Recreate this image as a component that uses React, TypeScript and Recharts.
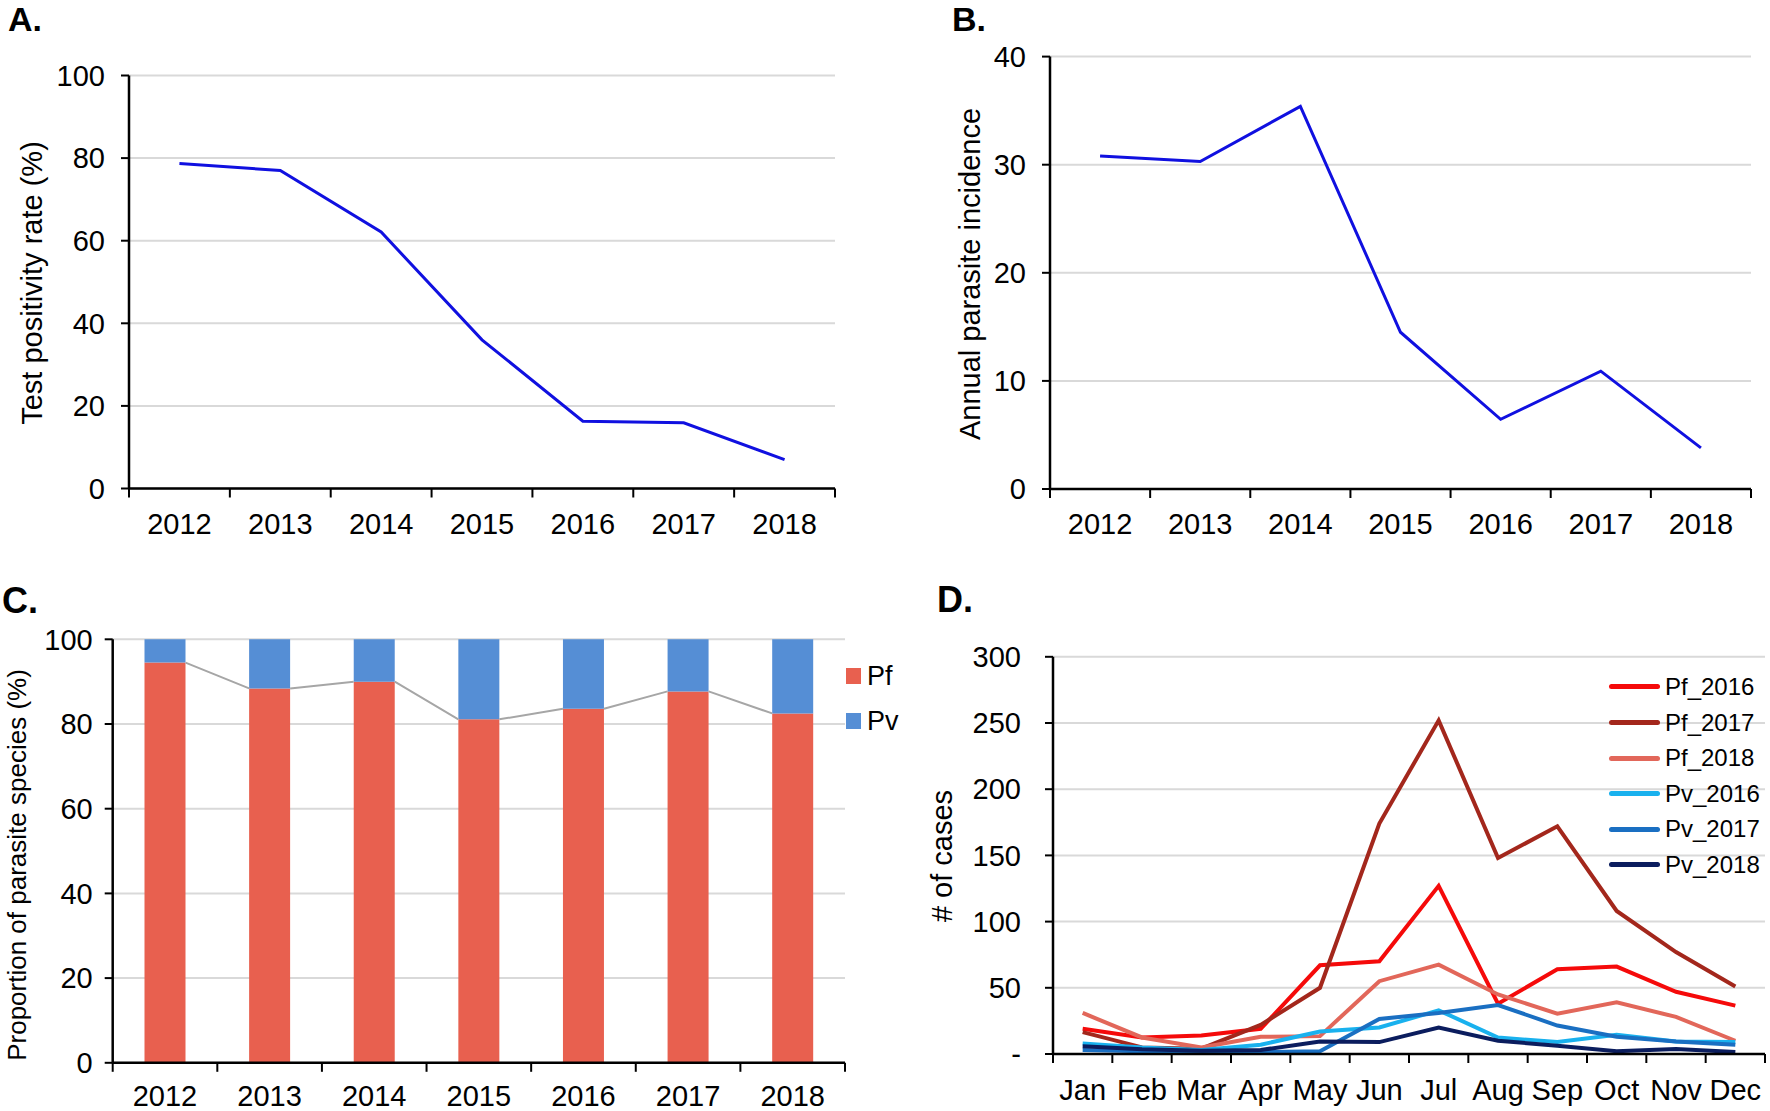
import React from 'react';
import { ComposedChart, Line, Bar, XAxis, YAxis, CartesianGrid, Legend } from 'recharts';

const FONT = '"Liberation Sans", Arial, Helvetica, sans-serif';

// ---------- data ----------
const years = ['2012', '2013', '2014', '2015', '2016', '2017', '2018'];
const testPositivity = [78.7, 77.0, 62.1, 36.0, 16.3, 15.9, 7.0];
const annualIncidence = [30.8, 30.3, 35.4, 14.5, 6.45, 10.9, 3.8];
const pfShare = [94.5, 88.4, 90.0, 81.1, 83.6, 87.7, 82.5];
const pvShare = [5.5, 11.6, 10.0, 18.9, 16.4, 12.3, 17.5];

const months = ['Jan', 'Feb', 'Mar', 'Apr', 'May', 'Jun', 'Jul', 'Aug', 'Sep', 'Oct', 'Nov', 'Dec'];
const pf2016 = [19, 12.5, 14, 19, 67, 70, 127, 38, 64, 66, 47, 36.5];
const pf2017 = [16.5, 5, 4, 22, 50, 174, 252, 148, 172, 108, 77, 51];
const pf2018 = [31, 12.5, 5, 13, 13.5, 55, 67.5, 45, 30.5, 39, 28, 10];
const pv2016 = [8, 5, 3, 7, 17, 20, 33, 12.5, 9, 14.6, 9.5, 9];
const pv2017 = [3, 2, 1.5, 1.5, 2, 26.5, 31, 37, 21.5, 13, 9.5, 7];
const pv2018 = [5.8, 3.5, 2.5, 3, 9.5, 9, 20, 10, 6.3, 2, 3.8, 1.5];

const tprTicks = [0, 20, 40, 60, 80, 100];
const apiTicks = [0, 10, 20, 30, 40];
const shareTicks = [0, 20, 40, 60, 80, 100];
const caseTicks = [0, 50, 100, 150, 200, 250, 300];

const monthSeries = [
  { key: 'Pf_2016', values: pf2016, color: '#f50a0a' },
  { key: 'Pf_2017', values: pf2017, color: '#a3271c' },
  { key: 'Pf_2018', values: pf2018, color: '#e2675a' },
  { key: 'Pv_2016', values: pv2016, color: '#19b1ee' },
  { key: 'Pv_2017', values: pv2017, color: '#1a6fc2' },
  { key: 'Pv_2018', values: pv2018, color: '#0b1d5e' },
];

const yearRows = years.map((year, i) => ({
  year,
  tpr: testPositivity[i],
  api: annualIncidence[i],
  pf: pfShare[i],
  pv: pvShare[i],
}));

const monthRows = months.map((month, i) => {
  const row: any = { month };
  monthSeries.forEach((s) => {
    row[s.key] = s.values[i];
  });
  return row;
});

// Excel-style series lines between stacked bars (bar edges in category units)
const BAR_GAP = 0.304;
const BAR_HALF = 0.5 - BAR_GAP;
const seriesLinePts: any[] = [];
for (let i = 0; i < pfShare.length - 1; i++) {
  seriesLinePts.push({ x: i + 0.5 + BAR_HALF, v: pfShare[i] });
  seriesLinePts.push({ x: i + 1.5 - BAR_HALF, v: pfShare[i + 1] });
  seriesLinePts.push({ x: i + 1.5, v: null });
}

// ---------- helpers ----------
function BoundaryTick(props: any) {
  const { x, y, payload, index, count, half, labelDy, fontSize } = props;
  const h = typeof payload?.offset === 'number' && payload.offset > 0 ? payload.offset : half;
  const last = index === count - 1;
  return (
    <g>
      <line x1={x - h} x2={x - h} y1={y} y2={y + 9} stroke="#000" strokeWidth={2} />
      {last && <line x1={x + h} x2={x + h} y1={y} y2={y + 9} stroke="#000" strokeWidth={2} />}
      <text x={x} y={y + labelDy} dy="0.36em" textAnchor="middle" fontSize={fontSize} fontFamily={FONT} fill="#000">
        {payload.value}
      </text>
    </g>
  );
}

const axisLine = { stroke: '#000', strokeWidth: 2.5 };
const tickLine = { stroke: '#000', strokeWidth: 2 };
const tickStyle = { fontSize: 29, fontFamily: FONT, fill: '#000' };

function PanelLetter({ text, left, baseline, size }: { text: string; left: number; baseline: number; size: number }) {
  return (
    <div
      style={{
        position: 'absolute',
        left,
        top: baseline - 0.8465 * size,
        fontSize: size,
        lineHeight: `${size}px`,
        fontWeight: 'bold',
        fontFamily: FONT,
        color: '#000',
      }}
    >
      {text}
    </div>
  );
}

function AxisTitle({ text, cx, cy, size }: { text: string; cx: number; cy: number; size: number }) {
  return (
    <div
      style={{
        position: 'absolute',
        left: cx,
        top: cy,
        transform: 'translate(-50%, -50%) rotate(-90deg)',
        fontSize: size,
        lineHeight: `${size}px`,
        fontFamily: FONT,
        whiteSpace: 'nowrap',
        color: '#000',
      }}
    >
      {text}
    </div>
  );
}

function LegendC() {
  const items = [
    { name: 'Pf', color: '#e8604f' },
    { name: 'Pv', color: '#558ed5' },
  ];
  return (
    <div style={{ fontFamily: FONT }}>
      {items.map((it) => (
        <div key={it.name} style={{ height: 45, display: 'flex', alignItems: 'center' }}>
          <span style={{ display: 'inline-block', width: 15, height: 16, background: it.color, marginRight: 6 }} />
          <span style={{ fontSize: 27, color: '#000' }}>{it.name}</span>
        </div>
      ))}
    </div>
  );
}

function LegendD() {
  return (
    <div style={{ fontFamily: FONT }}>
      {monthSeries.map((s) => (
        <div key={s.key} style={{ height: 35.6, display: 'flex', alignItems: 'center' }}>
          <span
            style={{ display: 'inline-block', width: 51, height: 5, borderRadius: 2.5, background: s.color, marginRight: 5 }}
          />
          <span style={{ fontSize: 24, color: '#000' }}>{s.key}</span>
        </div>
      ))}
    </div>
  );
}

// ---------- app ----------
export default function App() {
  return (
    <div style={{ position: 'absolute', left: 0, top: 0, width: 1770, height: 1111, background: '#fff', overflow: 'hidden' }}>
      {/* Panel A */}
      <div style={{ position: 'absolute', left: 0, top: 0 }}>
        <ComposedChart width={885} height={555} data={yearRows} margin={{ top: 75.5, right: 50, bottom: 6.5, left: 59 }}>
          <CartesianGrid vertical={false} stroke="#d9d9d9" strokeWidth={2} />
          <XAxis
            dataKey="year"
            scale="band"
            height={60}
            tickSize={0}
            tickMargin={0}
            interval={0}
            axisLine={axisLine}
            tickLine={false}
            tick={<BoundaryTick count={years.length} half={50.4} labelDy={35.5} fontSize={29} />}
          />
          <YAxis
            width={70}
            domain={[0, 100]}
            ticks={tprTicks}
            interval={0}
            tickSize={8}
            tickMargin={16}
            axisLine={axisLine}
            tickLine={tickLine}
            tick={tickStyle}
          />
          <Line dataKey="tpr" stroke="#1010e0" strokeWidth={3} dot={false} isAnimationActive={false} />
        </ComposedChart>
      </div>

      {/* Panel B */}
      <div style={{ position: 'absolute', left: 885, top: 0 }}>
        <ComposedChart width={885} height={555} data={yearRows} margin={{ top: 56.6, right: 19, bottom: 6, left: 95 }}>
          <CartesianGrid vertical={false} stroke="#d9d9d9" strokeWidth={2} />
          <XAxis
            dataKey="year"
            scale="band"
            height={60}
            tickSize={0}
            tickMargin={0}
            interval={0}
            axisLine={axisLine}
            tickLine={false}
            tick={<BoundaryTick count={years.length} half={50.1} labelDy={35} fontSize={29} />}
          />
          <YAxis
            width={70}
            domain={[0, 40]}
            ticks={apiTicks}
            interval={0}
            tickSize={8}
            tickMargin={16}
            axisLine={axisLine}
            tickLine={tickLine}
            tick={tickStyle}
          />
          <Line dataKey="api" stroke="#1010e0" strokeWidth={3} dot={false} isAnimationActive={false} />
        </ComposedChart>
      </div>

      {/* Panel C */}
      <div style={{ position: 'absolute', left: 0, top: 555 }}>
        <ComposedChart
          width={930}
          height={556}
          data={yearRows}
          margin={{ top: 84.3, right: 85, bottom: 8.2, left: 42.7 }}
          barCategoryGap={`${BAR_GAP * 100}%`}
        >
          <CartesianGrid vertical={false} stroke="#d9d9d9" strokeWidth={2} />
          <XAxis
            dataKey="year"
            scale="band"
            height={40}
            tickSize={0}
            tickMargin={0}
            interval={0}
            axisLine={axisLine}
            tickLine={false}
            tick={<BoundaryTick count={years.length} half={52.3} labelDy={33} fontSize={29} />}
          />
          <XAxis xAxisId="s" type="number" dataKey="x" domain={[0, years.length]} allowDataOverflow hide />
          <YAxis
            width={70}
            domain={[0, 100]}
            ticks={shareTicks}
            interval={0}
            tickSize={8}
            tickMargin={12}
            axisLine={axisLine}
            tickLine={tickLine}
            tick={tickStyle}
          />
          <Bar dataKey="pf" stackId="a" fill="#e8604f" isAnimationActive={false} />
          <Bar dataKey="pv" stackId="a" fill="#558ed5" isAnimationActive={false} />
          <Line
            xAxisId="s"
            data={seriesLinePts}
            dataKey="v"
            stroke="#a6a6a6"
            strokeWidth={2}
            dot={false}
            connectNulls={false}
            isAnimationActive={false}
          />
          <Legend
            layout="vertical"
            align="center"
            verticalAlign="middle"
            wrapperStyle={{ left: 846, top: 98.5, width: 80 }}
            content={() => <LegendC />}
          />
        </ComposedChart>
      </div>

      {/* Panel D */}
      <div style={{ position: 'absolute', left: 885, top: 555 }}>
        <ComposedChart width={885} height={556} data={monthRows} margin={{ top: 101.8, right: 5, bottom: 17, left: 98 }}>
          <CartesianGrid vertical={false} stroke="#d9d9d9" strokeWidth={2} />
          <XAxis
            dataKey="month"
            scale="band"
            height={40}
            tickSize={0}
            tickMargin={0}
            interval={0}
            axisLine={axisLine}
            tickLine={false}
            tick={<BoundaryTick count={months.length} half={29.7} labelDy={36} fontSize={29} />}
          />
          <YAxis
            width={70}
            domain={[0, 300]}
            ticks={caseTicks}
            interval={0}
            tickSize={8}
            tickMargin={24}
            axisLine={axisLine}
            tickLine={tickLine}
            tick={tickStyle}
            tickFormatter={(v: number) => (v === 0 ? '-' : String(v))}
          />
          {monthSeries.map((s) => (
            <Line
              key={s.key}
              dataKey={s.key}
              stroke={s.color}
              strokeWidth={4}
              dot={false}
              isAnimationActive={false}
            />
          ))}
          <Legend
            layout="vertical"
            align="center"
            verticalAlign="middle"
            wrapperStyle={{ left: 724, top: 114.2, width: 160 }}
            content={() => <LegendD />}
          />
        </ComposedChart>
      </div>

      {/* Panel letters */}
      <PanelLetter text="A." left={8} baseline={31} size={34} />
      <PanelLetter text="B." left={952} baseline={31} size={34} />
      <PanelLetter text="C." left={2} baseline={613} size={36} />
      <PanelLetter text="D." left={937} baseline={612} size={36} />

      {/* Axis titles */}
      <AxisTitle text="Test positivity rate (%)" cx={32} cy={283} size={29} />
      <AxisTitle text="Annual parasite incidence" cx={970} cy={274} size={29} />
      <AxisTitle text="Proportion of parasite species (%)" cx={17} cy={865} size={26} />
      <AxisTitle text="# of cases" cx={941.5} cy={856} size={29} />
    </div>
  );
}
